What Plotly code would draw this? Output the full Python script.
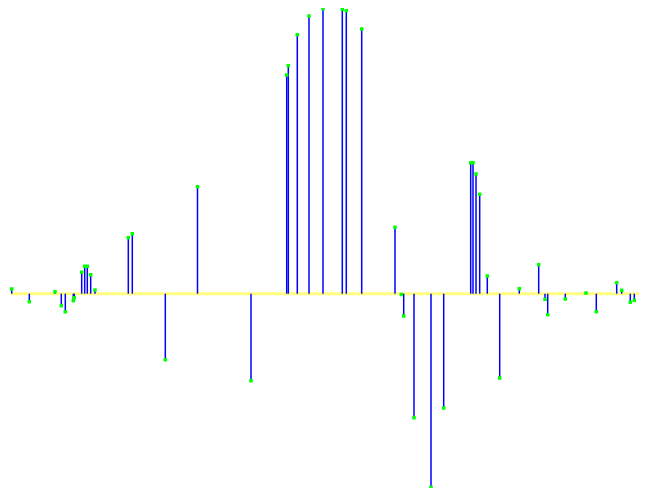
import plotly.graph_objects as go

positions = [11.7, 29.3, 55, 61.3, 65.3, 73.3, 74.3, 81.7, 84.7, 87.3, 90.7, 95,
             128.3, 132.3, 165.3, 197.5, 251, 286.7, 288.3, 297.3, 309, 323,
             342.3, 346.3, 361.7, 395, 401.3, 403.7, 414, 431, 443.7, 470.7,
             473, 476, 479.7, 487.3, 499.7, 519.3, 538.7, 545, 547.7, 565.3,
             586, 596.3, 616.7, 621.7, 630.3, 634.3]
values = [4.7, -8.0, 2.0, -12.0, -18.1, -7.0, -4.0, 21.5, 27.4, 27.4, 18.9, 3.7,
          56.0, 60.0, -66.0, 107.0, -87.0, 218.7, 228.0, 259.0, 277.7, 285.0,
          284.4, 283.0, 264.7, 66.4, -0.8, -22.3, -124.0, -193.6, -114.3, 131.0,
          131.0, 119.7, 99.4, 17.7, -84.3, 5.0, 29.0, -5.6, -21.0, -5.3,
          0.7, -18.0, 11.0, 3.4, -8.5, -6.6]
baseline_x = [11, 646]
baseline_y = [0, 0]

stem_x, stem_y = [], []
for xv, yv in zip(positions, values):
    stem_x += [xv, xv, None]
    stem_y += [0, yv, None]

fig = go.Figure()
fig.add_trace(go.Scatter(x=baseline_x, y=baseline_y, mode="lines",
                         line=dict(color="#ffff80", width=3), hoverinfo="skip"))
fig.add_trace(go.Scatter(x=stem_x, y=stem_y, mode="lines",
                         line=dict(color="#0000ff", width=1.5), hoverinfo="skip"))
fig.add_trace(go.Scatter(x=positions, y=values, mode="markers",
                         marker=dict(symbol="square", size=3.5, color="#00ff00",
                                     line=dict(width=0))))

fig.update_layout(
    width=647, height=488,
    margin=dict(l=0, r=0, t=0, b=0),
    paper_bgcolor="white", plot_bgcolor="white",
    showlegend=False,
    xaxis=dict(range=[8, 655], visible=False),
    yaxis=dict(range=[-202.3, 285.7], visible=False),
)
fig.write_html("out.html")
